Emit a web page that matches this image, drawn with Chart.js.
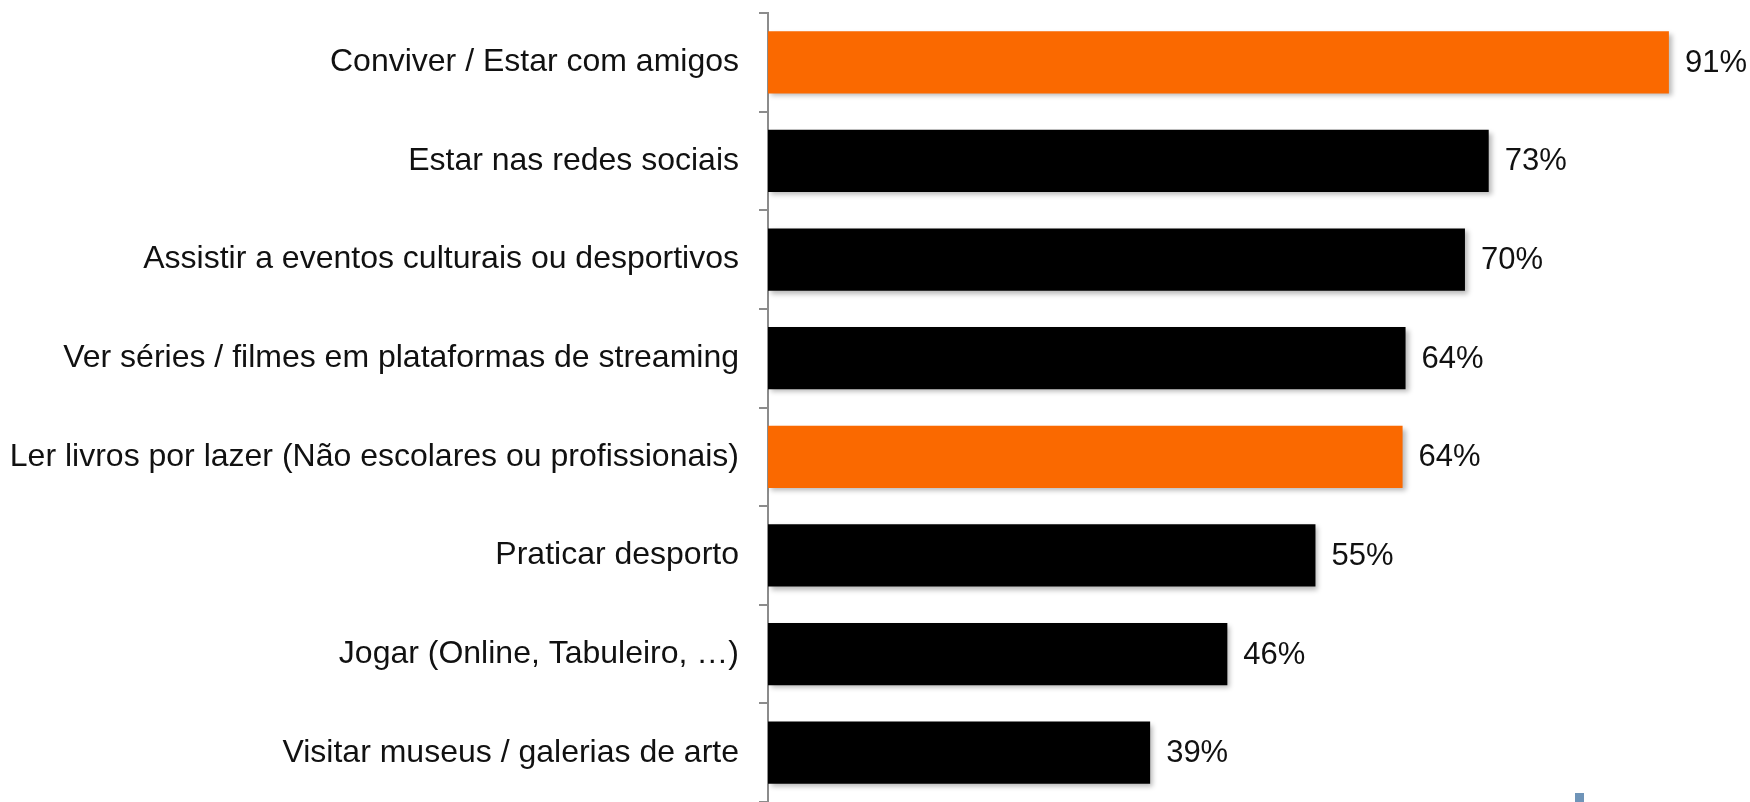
<!DOCTYPE html>
<html lang="pt">
<head>
    <meta charset="UTF-8" />
    <title>Atividades de lazer</title>
    <script src="https://cdn.jsdelivr.net/npm/chart.js"></script>
    <style>
        html, body {
            margin: 0;
            padding: 0;
            background: #fff;
            overflow: hidden;
        }
        .wrap {
            position: relative;
            width: 1758px;
            height: 802px;
        }
        canvas {
            display: block;
        }
        .marker {
            position: absolute;
            left: 1575px;
            top: 793px;
            width: 9px;
            height: 9px;
            background: #6f94b8;
        }
    </style>
</head>
<body>
    <div class="wrap">
        <canvas id="lazerChart" width="1758" height="802"></canvas>
        <div class="marker"></div>
    </div>

    <script>
        // data
        const categories = [
            'Conviver / Estar com amigos',
            'Estar nas redes sociais',
            'Assistir a eventos culturais ou desportivos',
            'Ver séries / filmes em plataformas de streaming',
            'Ler livros por lazer (Não escolares ou profissionais)',
            'Praticar desporto',
            'Jogar (Online, Tabuleiro, …)',
            'Visitar museus / galerias de arte'
        ];
        const percentages = [91, 72.8, 70.4, 64.4, 64.1, 55.3, 46.4, 38.6];
        const highlighted = [true, false, false, false, true, false, false, false];

        const ORANGE = '#fa6900';
        const BLACK = '#000000';
        const FONT = '"Liberation Sans", Arial, sans-serif';

        // soft drop shadow under the bars
        const barShadow = {
            id: 'barShadow',
            beforeDatasetsDraw(chart) {
                const ctx = chart.ctx;
                ctx.save();
                ctx.shadowColor = 'rgba(0, 0, 0, 0.28)';
                ctx.shadowBlur = 5;
                ctx.shadowOffsetX = 3;
                ctx.shadowOffsetY = 3;
            },
            afterDatasetsDraw(chart) {
                chart.ctx.restore();
            }
        };

        // percentage labels at the end of each bar
        const valueLabels = {
            id: 'valueLabels',
            afterDatasetsDraw(chart) {
                const ctx = chart.ctx;
                const meta = chart.getDatasetMeta(0);
                ctx.save();
                ctx.font = '31px ' + FONT;
                ctx.fillStyle = '#111';
                ctx.textAlign = 'left';
                ctx.textBaseline = 'middle';
                meta.data.forEach((bar, i) => {
                    ctx.fillText(Math.round(percentages[i]) + '%', bar.x + 16, bar.y + 1);
                });
                ctx.restore();
            }
        };

        const ctx = document.getElementById('lazerChart').getContext('2d');
        new Chart(ctx, {
            type: 'bar',
            data: {
                labels: categories,
                datasets: [{
                    data: percentages,
                    backgroundColor: highlighted.map(h => h ? ORANGE : BLACK),
                    borderWidth: 0,
                    categoryPercentage: 1,
                    barPercentage: 0.63
                }]
            },
            options: {
                indexAxis: 'y',
                responsive: false,
                animation: false,
                devicePixelRatio: 1,
                layout: { padding: { top: 13, bottom: 0, left: 0, right: 0 } },
                scales: {
                    x: {
                        display: false,
                        min: 0,
                        max: 100
                    },
                    y: {
                        afterFit(scale) {
                            scale.width = 768;
                            scale.paddingTop = 0;
                            scale.paddingBottom = 0;
                        },
                        border: { display: true, color: '#8c8c8c', width: 2 },
                        grid: {
                            offset: true,
                            drawOnChartArea: false,
                            drawTicks: true,
                            tickLength: 9,
                            color: '#8c8c8c',
                            lineWidth: 2
                        },
                        ticks: {
                            color: '#111',
                            padding: 20,
                            font: { family: FONT, size: 32 }
                        }
                    }
                },
                plugins: {
                    legend: { display: false },
                    tooltip: { enabled: false }
                }
            },
            plugins: [barShadow, valueLabels]
        });
    </script>
</body>
</html>
